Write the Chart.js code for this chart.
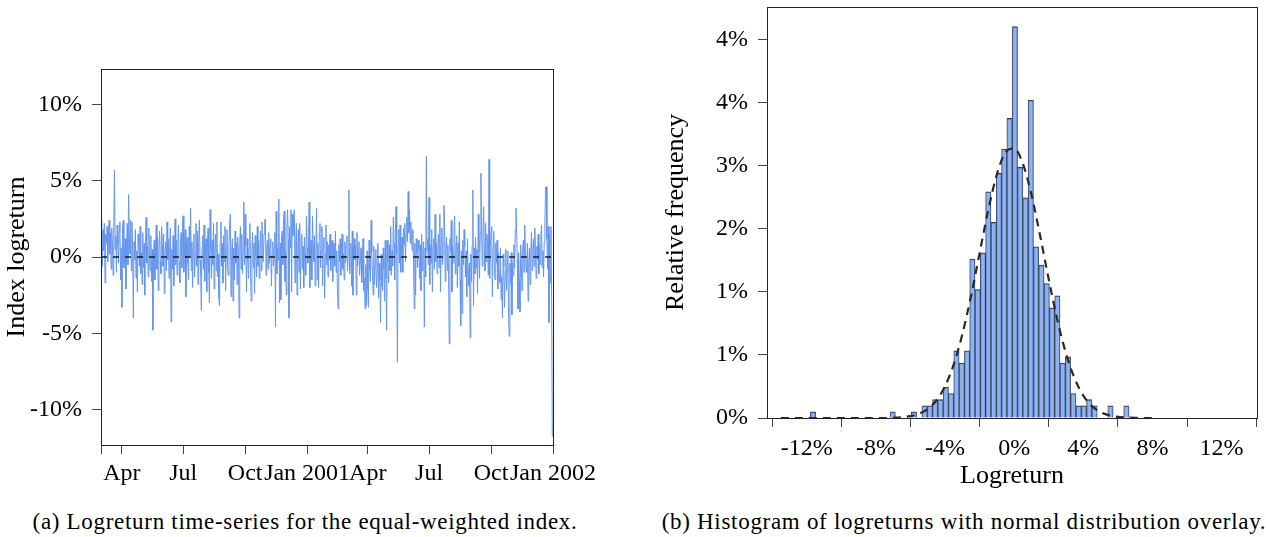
<!DOCTYPE html>
<html>
<head>
<meta charset="utf-8">
<script src="https://cdn.jsdelivr.net/npm/chart.js@4.4.1/dist/chart.umd.min.js"></script>
<style>
  body { margin: 0; background: #fff; width: 1266px; height: 537px; position: relative; overflow: hidden; font-family: 'Liberation Serif', 'Times New Roman', serif; color: #000; }
  canvas { position: absolute; top: 0; }
  #tsChart { left: 0; }
  #histChart { left: 633px; }
  .caption { position: absolute; top: 509px; font-size: 23px; line-height: 26px; white-space: nowrap; transform: translateX(-50%); letter-spacing: 0.7px; }
</style>
</head>
<body>
<canvas id="tsChart" width="633" height="500"></canvas>
<canvas id="histChart" width="633" height="500"></canvas>
<div class="caption" style="left:305px">(a) Logreturn time-series for the equal-weighted index.</div>
<div class="caption" style="left:964px">(b) Histogram of logreturns with normal distribution overlay.</div>
<script>
// daily logreturns in %, 1 Mar 2000 .. 31 Dec 2001
const startDay = 60; // days after 1 Jan 2000
const logreturns = [
  1.2, 2.5, -0.6, 1.8, 0.4, 2.2, -1.7, 1.5, 0.9, 2.0, -0.3, 1.1, 2.4, 0.2, 1.6, -0.8, 1.9, 0.7, -1.2, 2.3,
  5.7, 0.5, 1.4, -1.0, 2.1, 0.8, -0.4, 1.7, 2.3, -1.5, 0.6, -3.3, 1.9, 2.4, -0.7, 0.3, 1.2, -2.1, 0.9, 2.2,
  -0.5, 4.1, 1.3, 0.2, 2.4, -0.9, 2.3, 0.6, -4.0, 1.0, -0.2, 1.8, -1.4, 0.4, -2.3, 1.5, 0.8, -0.6, 2.0, -1.1,
  0.3, -1.8, 1.6, -0.7, 0.9, -2.5, 1.2, 2.6, -0.4, 0.7, -1.3, 1.9, 0.1, -0.9, 1.4, -1.6, 0.5, -4.8, 0.2, 1.1,
  -1.5, 0.6, 2.1, -0.8, 1.3, -2.2, 0.4, 1.7, -0.3, -1.1, 2.0, 0.8, -0.6, 1.5, -2.4, 0.3, 1.0, -0.9, 2.3, -0.2,
  1.2, -1.4, 0.7, 1.9, -4.25, 0.5, -0.8, 1.4, -1.9, 0.2, 2.5, -0.5, 1.1, -1.2, 0.6, 2.1, -0.3, -1.7, 0.9, 1.6,
  -0.7, 2.3, 2.7, -1.0, 0.4, 1.8, -2.6, 0.8, 1.3, -0.4, -1.5, 2.0, 0.1, 3.2, -0.9, 1.0, -2.0, 0.6, 1.5, -1.3,
  0.3, 2.2, -0.6, 1.7, -1.8, 0.9, 2.4, -0.2, -1.1, -3.5, 0.7, 1.4, -0.8, 2.1, -1.6, 0.5, 1.2, -2.3, 0.8, 1.9,
  -1.0, -3.0, 3.1, 0.4, -1.4, 1.1, -0.5, 2.2, -2.1, 0.6, 1.5, -0.9, 2.3, -1.3, 0.2, -2.7, -3.2, 1.0, 2.3, -0.6,
  0.9, -1.7, 1.4, -0.3, 2.0, -2.2, 0.5, 1.8, -0.7, -1.2, 0.8, 2.1, 2.8, -2.6, 0.3, 1.2, -2.9, 0.6, -1.5, 1.7,
  -0.4, 0.9, -1.8, 1.3, 0.2, -4.0, 1.0, 2.0, -0.8, 1.5, -1.1, 0.4, 3.6, -0.5, 2.8, 0.7, -2.3, 1.2, -0.2, -1.4,
  0.6, 2.2, -1.0, -2.9, 0.3, 1.6, -0.7, 0.9, -2.4, 1.4, 0.1, -1.3, 2.0, -0.6, 1.1, -1.4, 0.5, 1.7, -0.9, 2.3,
  0.8, -0.3, 1.5, 2.4, 2.5, -1.2, 0.4, 1.1, -0.8, 1.6, -0.4, 0.7, 1.2, -1.9, 0.3, 1.0, -0.6, 0.5, 1.6, -4.6,
  3.0, -1.1, 0.6, -0.2, 3.8, -3.0, 0.9, -2.8, 1.3, 1.7, -0.5, 2.4, 3.0, -1.6, 0.4, -2.5, 2.0, 3.1, 1.2, -4.0,
  2.0, 0.6, 3.1, -2.3, 2.8, 1.4, 2.5, 3.1, -1.7, 0.9, 2.2, -2.5, 0.5, 1.8, -1.0, 2.2, -2.1, 0.3, 1.5, -0.8,
  0.7, -2.0, 1.3, 0.2, -1.2, 2.7, 0.6, -0.4, 0.7, 3.6, -2.0, 0.4, 1.1, -1.5, 2.7, 0.8, -0.3, 1.4, -1.9, 0.5,
  3.2, -1.5, 0.9, -2.0, 1.6, 2.2, -0.7, 0.4, 2.0, -1.9, 0.6, 1.3, -2.7, 0.2, 2.1, -0.5, 1.0, -1.3, 0.8, -0.2,
  1.5, -0.9, 0.6, 1.1, -1.6, 0.3, 0.9, -0.6, 1.7, -1.0, 0.4, -2.1, -3.4, 0.8, -0.3, 1.2, -1.2, 0.5, 1.5, -0.8,
  0.2, -1.5, 1.0, -0.4, 0.7, 1.4, -0.9, 0.3, 4.4, -1.1, -0.5, 0.9, -1.9, 1.7, -2.5, 0.6, 1.2, -0.2, 0.8, -2.5,
  1.6, -0.6, 0.4, 1.0, -1.2, -0.3, 0.6, -1.7, -0.9, 1.2, -2.2, -1.4, -3.4, -0.5, -3.2, 0.4, -2.1, -3.3, 1.1, -0.8,
  -1.6, 2.4, 0.3, -1.0, -2.5, 0.7, -1.8, -0.6, 0.5, -2.0, -1.2, 0.9, -2.7, -0.4, -1.5, -4.3, 0.2, -1.9, -2.2, 0.6,
  -0.8, -2.9, 1.1, -1.4, -4.8, 1.1, -0.3, -1.7, 0.8, -0.9, 2.0, -1.2, 0.4, -0.6, 2.6, 0.9, -1.5, 1.6, 3.3, 0.2,
  -6.9, 0.7, 1.8, -0.4, 2.1, -1.0, 0.5, 1.3, -1.0, 1.9, 0.8, 2.2, -0.3, 1.4, 2.6, 1.0, 4.3, 1.6, 3.1, 0.9,
  2.3, 1.1, 0.4, 1.8, -0.6, -3.4, 0.9, -2.5, 1.2, 0.3, -0.7, 1.1, 0.5, -1.4, 0.8, -2.2, 1.5, -0.9, 0.4, 1.0,
  -4.6, 0.6, -1.3, 6.6, 0.4, 1.2, -0.5, 3.9, -1.8, 0.8, -0.4, 1.8, -2.3, 0.5, 1.2, -0.8, 2.8, -0.3, 0.9, -1.1,
  0.4, 1.5, -0.7, 2.8, -2.3, 0.6, 1.9, -0.5, 0.3, 3.4, 2.4, -1.6, 0.5, 1.3, -0.9, 0.8, -1.2, -5.7, 1.2, 0.3,
  2.4, -2.3, 0.7, -0.4, 1.6, 2.7, -1.1, 0.5, 1.4, -2.0, 0.9, -0.6, 2.3, -1.5, -4.5, 0.4, -3.7, 1.1, -0.5, 1.8,
  0.7, -1.3, 0.4, -2.6, 1.2, -0.8, -1.9, -0.4, -5.3, 0.2, -1.6, 0.8, 4.4, -3.2, 0.6, -1.1, 1.3, -0.7, 0.5, -2.4,
  2.8, 0.3, -1.4, 1.6, 5.5, 2.0, -0.6, 1.2, 3.3, 0.4, -0.9, 2.2, -0.3, 1.5, 0.6, -1.2, 6.4, -1.4, 0.7, 1.7,
  2.0, -2.6, 0.5, 1.7, -0.8, -1.5, 0.9, -0.4, 1.1, -2.1, 0.3, -1.1, -1.7, 0.6, -2.8, -1.3, -4.0, 0.2, -0.6, -3.3,
  -1.0, 0.5, -2.2, -0.9, 0.4, -3.8, -5.2, -0.4, -1.8, 0.3, -3.8, -0.4, -1.2, 0.8, -0.7, 1.8, 3.2, 1.8, -0.2, -3.4,
  0.3, -1.6, -3.6, 0.8, -0.5, -2.2, 0.6, 1.1, -1.0, 2.1, 0.4, -0.8, -1.0, 0.9, -2.9, -0.3, 0.6, -1.8, 0.2, 1.6,
  -0.9, 0.5, 1.2, -0.6, 1.9, 0.3, -1.4, 0.7, -0.2, 1.5, -1.1, 0.8, -0.5, 1.3, 2.1, -0.7, 0.4, -1.3, 1.0, 2.3,
  4.6, 4.6, 1.2, -0.8, 2.0, -4.3, 1.5, -1.7, 2.0, -3.0, -11.79
];
const dateTickDays = [60, 91, 182, 274, 366, 456, 547, 639, 731];
const dateTickLabels = ['', 'Apr', 'Jul', 'Oct', 'Jan 2001', 'Apr', 'Jul', 'Oct', 'Jan 2002'];
const tsTicks = [-10, -5, 0, 5, 10];

// histogram: 60 bins starting at -11.79%
const binStart = -11.79;
const binWidth = 0.3073;
const binCounts = [
  1, 0, 0, 0, 0, 0, 0, 0, 0, 0,
  0, 0, 0, 0, 0, 1, 0, 0, 0, 1,
  0, 2, 2, 3, 3, 5, 4, 11, 9, 11,
  26, 21, 27, 37, 32, 40, 44, 49, 64, 41,
  36, 52, 28, 25, 22, 18, 20, 9, 10, 4,
  2, 2, 3, 2, 0, 0, 2, 0, 0, 2
];
// normal overlay
const curveX = [-13.5, -13, -12.5, -12, -11.5, -11, -10.5, -10, -9.5, -9, -8.5, -8, -7.5, -7, -6.5, -6, -5.5, -5, -4.5, -4,
  -3.5, -3, -2.5, -2, -1.5, -1, -0.5, 0, 0.5, 1, 1.5, 2, 2.5, 3, 3.5, 4, 4.5, 5, 5.5, 6, 6.5, 7, 7.5, 8];
const curveY = [0, 0, 0, 0, 0, 0, 0, 0, 0, 0, 0, 0, 0, 0.02, 0.06, 0.15, 0.34, 0.72, 1.39, 2.52,
  4.24, 6.63, 9.65, 13.08, 16.48, 19.32, 21.07, 21.38, 20.18, 17.72, 14.47, 11.00, 7.77, 5.11, 3.13, 1.78, 0.94, 0.46, 0.21, 0.09, 0.04, 0.01, 0, 0];
const histXTicks = [-12, -8, -4, 0, 4, 8, 12];
const histYTicks = [0, 5, 10, 15, 20, 25, 30];
const histYLabels = ['0%', '1%', '1%', '2%', '3%', '4%', '4%'];

Chart.defaults.font.family = "'Liberation Serif', 'Times New Roman', serif";
Chart.defaults.font.size = 24;
Chart.defaults.color = '#000';

const framePlugin = {
    id: 'frame',
    afterDatasetsDraw(chart) {
        const { ctx, chartArea: a } = chart;
        ctx.save();
        ctx.strokeStyle = '#222';
        ctx.lineWidth = 1;
        ctx.strokeRect(Math.round(a.left) + 0.5, Math.round(a.top) + 0.5,
            Math.round(a.right - a.left), Math.round(a.bottom - a.top));
        ctx.restore();
    }
};

function setTicks(values) {
    return scale => { scale.ticks = values.map(v => ({ value: v })); };
}

// fixed axis sizes so the plot boxes land where the reference has them
function fixWidth(w) {
    return s => { s.width = w; s.paddingTop = 0; s.paddingBottom = 0; };
}
function fixHeight(h) {
    return s => { s.height = h; };
}

const tickGrid = { drawOnChartArea: false, drawTicks: true, tickLength: 9, color: '#444', lineWidth: 1 };
const titleFont = { size: 26 };

// (a) time-series
const tsPoints = logreturns.map((v, i) => ({ x: startDay + i, y: v }));
const lastDay = startDay + logreturns.length - 1;

new Chart(document.getElementById('tsChart'), {
    type: 'line',
    data: {
        datasets: [{
            data: [{ x: startDay, y: 0 }, { x: lastDay, y: 0 }],
            borderColor: '#000',
            borderWidth: 1.3,
            borderDash: [6, 6],
            pointRadius: 0
        }, {
            data: tsPoints,
            borderColor: '#6495ED',
            borderWidth: 1,
            pointRadius: 0,
            tension: 0
        }]
    },
    options: {
        responsive: false,
        animation: false,
        devicePixelRatio: 1,
        layout: { padding: { left: 0, top: 69, right: 80, bottom: 0 } },
        plugins: { legend: { display: false }, tooltip: { enabled: false } },
        scales: {
            x: {
                type: 'linear',
                min: startDay,
                max: 731,
                afterBuildTicks: setTicks(dateTickDays),
                afterFit: fixHeight(55),
                grid: tickGrid,
                border: { display: false },
                ticks: { autoSkip: false, maxRotation: 0, minRotation: 0, padding: 5,
                    callback: (v, i) => dateTickLabels[i] }
            },
            y: {
                min: -12.33,
                max: 12.33,
                afterBuildTicks: setTicks(tsTicks),
                afterFit: fixWidth(101),
                grid: tickGrid,
                border: { display: false },
                ticks: { padding: 10, callback: v => v + '%' },
                title: { display: true, text: 'Index logreturn', font: titleFont, padding: { top: 2, bottom: 0 } }
            }
        }
    },
    plugins: [framePlugin]
});

// (b) histogram
const nObs = binCounts.reduce((a, b) => a + b, 0);
const histBars = binCounts.map((c, i) => ({
    x: binStart + (i + 0.5) * binWidth,
    y: c / (nObs * binWidth / 100)
}));
const curvePoints = curveX.map((x, i) => ({ x: x, y: curveY[i] }));

new Chart(document.getElementById('histChart'), {
    type: 'bar',
    data: {
        datasets: [{
            type: 'line',
            data: curvePoints,
            borderColor: '#2a2a2a',
            borderWidth: 2.2,
            borderDash: [8, 6],
            pointRadius: 0,
            cubicInterpolationMode: 'monotone',
            order: 0
        }, {
            type: 'bar',
            data: histBars,
            backgroundColor: 'rgba(100,149,237,0.72)',
            borderColor: 'rgba(30,30,30,0.85)',
            borderWidth: { left: 0.7, right: 0.7, top: 1, bottom: 0 },
            borderSkipped: false,
            barPercentage: 1,
            categoryPercentage: 1,
            order: 1
        }]
    },
    options: {
        responsive: false,
        animation: false,
        devicePixelRatio: 1,
        layout: { padding: { left: 26, top: 7, right: 9, bottom: 6 } },
        plugins: { legend: { display: false }, tooltip: { enabled: false } },
        scales: {
            x: {
                type: 'linear',
                min: -14.3,
                max: 14.05,
                offset: false,
                afterBuildTicks: setTicks(histXTicks),
                afterFit: fixHeight(76),
                grid: tickGrid,
                border: { display: false },
                ticks: { autoSkip: false, maxRotation: 0, minRotation: 0, padding: 7,
                    callback: v => v + '%' },
                title: { display: true, text: 'Logreturn', font: titleFont, padding: { top: 0, bottom: 2 } }
            },
            y: {
                min: 0,
                max: 32.6,
                afterBuildTicks: setTicks(histYTicks),
                afterFit: fixWidth(108),
                grid: tickGrid,
                border: { display: false },
                ticks: { padding: 10, callback: (v, i) => histYLabels[i] },
                title: { display: true, text: 'Relative frequency', font: titleFont, padding: { top: 2, bottom: 0 } }
            }
        }
    },
    plugins: [framePlugin]
});
</script>
</body>
</html>
